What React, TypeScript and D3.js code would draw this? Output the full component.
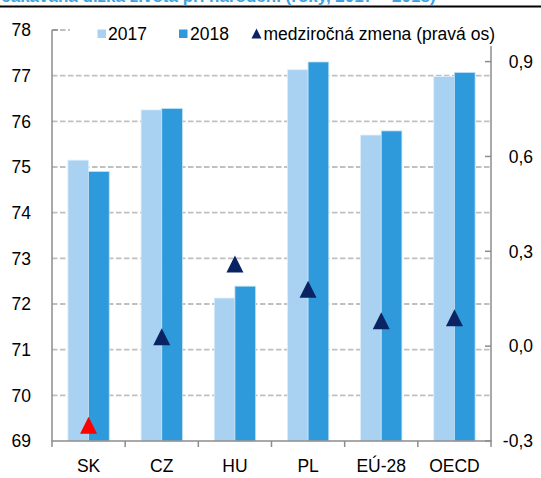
import React from "react";
import * as d3 from "d3";

const categories = ["SK", "CZ", "HU", "PL", "EÚ-28", "OECD"];
const values2017 = [75.15, 76.25, 72.13, 77.13, 75.7, 76.98];
const values2018 = [74.9, 76.28, 72.39, 77.3, 75.79, 77.07];
const yoyChange = [-0.25, 0.03, 0.26, 0.18, 0.08, 0.09];
const leftTicks = [69, 70, 71, 72, 73, 74, 75, 76, 77, 78];
const rightTicks = [-0.3, 0, 0.3, 0.6, 0.9];
const seriesNames = ["2017", "2018"];
const legendLabels = ["2017", "2018", "medziročná zmena (pravá os)"];

const W = 541;
const H = 478;
const FONT = "'Liberation Sans', Arial, sans-serif";
const C2017 = "#A9D1F1";
const C2018 = "#2E9ADC";
const NAVY = "#0A2463";
const GRID = "#C0C0C0";
const AXIS = "#8C8C8C";

export default function App() {
  const left = 52;
  const right = 491;
  const top = 30;
  const bottom = 441;

  const x0 = d3.scaleBand<string>().domain(categories).range([left, right]);
  const x1 = d3
    .scaleBand<string>()
    .domain(seriesNames)
    .range([0, x0.bandwidth()])
    .paddingInner(0)
    .paddingOuter(0.77);
  const yL = d3.scaleLinear().domain([69, 78]).range([bottom, top]);
  const yR = d3.scaleLinear().domain([-0.3, 1.0]).range([bottom, top]);
  const fmtR = (v: number) => d3.format(".1f")(v).replace(".", ",").replace("−", "-");

  const tri = (cx: number, cy: number, s: number) => {
    const p = d3.path();
    p.moveTo(cx, cy - s / 2);
    p.lineTo(cx + s / 2, cy + s / 2);
    p.lineTo(cx - s / 2, cy + s / 2);
    p.closePath();
    return p.toString();
  };

  return (
    <svg
      width={W}
      height={H}
      style={{ position: "absolute", left: 0, top: 0, background: "#fff" }}
      fontFamily={FONT}
    >
      <rect x={0} y={0} width={W} height={H} fill="#fff" />
      {/* title, mostly above the visible area as in the reference */}
      <text x={-12} y={1.5} fontSize={17} fontWeight="bold" fill="#3BA3E0">
        Očakávaná dĺžka života pri narodení (roky, 2017 – 2018)
      </text>
      <line x1={0} x2={W} y1={6.5} y2={6.5} stroke="#000" strokeWidth={2.2} />

      {/* gridlines */}
      {leftTicks.slice(1).map((t) => (
        <line
          key={"g" + t}
          x1={left}
          x2={right}
          y1={yL(t)}
          y2={yL(t)}
          stroke={GRID}
          strokeWidth={1.8}
          strokeDasharray="5.5 2.5"
        />
      ))}

      {/* bars */}
      {categories.map((c, i) => (
        <g key={c}>
          <rect
            x={(x0(c) as number) + (x1("2017") as number)}
            y={yL(values2017[i])}
            width={x1.bandwidth()}
            height={bottom - yL(values2017[i])}
            fill={C2017}
            stroke="#DDEEFA"
            strokeWidth={0.8}
          />
          <rect
            x={(x0(c) as number) + (x1("2018") as number)}
            y={yL(values2018[i])}
            width={x1.bandwidth()}
            height={bottom - yL(values2018[i])}
            fill={C2018}
            stroke="#BFE0F5"
            strokeWidth={0.8}
          />
        </g>
      ))}

      {/* triangles */}
      {categories.map((c, i) => (
        <path
          key={"t" + c}
          d={tri((x0(c) as number) + x0.bandwidth() / 2, yR(yoyChange[i]), 17)}
          fill={yoyChange[i] < 0 ? "#FF0000" : NAVY}
        />
      ))}

      {/* axes */}
      <line x1={left} x2={left} y1={top} y2={bottom} stroke={AXIS} strokeWidth={1.5} />
      <line x1={left} x2={left + 6} y1={top} y2={top} stroke={AXIS} strokeWidth={1.5} />
      <line x1={right} x2={right} y1={top} y2={bottom} stroke={AXIS} strokeWidth={1.5} />
      <line x1={left - 0.75} x2={right + 0.75} y1={bottom} y2={bottom} stroke={AXIS} strokeWidth={1.5} />
      {rightTicks.map((t) => (
        <line key={"rt" + t} x1={right - 6} x2={right} y1={yR(t)} y2={yR(t)} stroke={AXIS} strokeWidth={1.5} />
      ))}
      {categories.map((c) => (
        <line
          key={"bt" + c}
          x1={x0(c) as number}
          x2={x0(c) as number}
          y1={bottom}
          y2={bottom + 6}
          stroke={AXIS}
          strokeWidth={1.5}
        />
      ))}
      <line x1={right} x2={right} y1={bottom} y2={bottom + 6} stroke={AXIS} strokeWidth={1.5} />

      {/* tick labels */}
      {leftTicks.map((t) => (
        <text key={"lt" + t} x={31} y={yL(t)} dy="0.36em" textAnchor="end" fontSize={17.5} fill="#000">
          {t}
        </text>
      ))}
      {rightTicks.map((t) => (
        <text key={"rl" + t} x={533} y={yR(t)} dy="0.36em" textAnchor="end" fontSize={17.5} fill="#000">
          {fmtR(t)}
        </text>
      ))}
      {categories.map((c) => (
        <text
          key={"cl" + c}
          x={(x0(c) as number) + x0.bandwidth() / 2}
          y={466}
          dy="0.36em"
          textAnchor="middle"
          fontSize={17.5}
          fill="#000"
        >
          {c}
        </text>
      ))}

      {/* legend */}
      <rect x={70} y={18} width={428} height={28} fill="#fff" />
      <rect x={97.5} y={29.5} width={8.5} height={8.5} fill={C2017} />
      <text x={108} y={34} dy="0.36em" fontSize={17.5} fill="#000">
        {legendLabels[0]}
      </text>
      <rect x={179} y={29.5} width={8.5} height={8.5} fill={C2018} />
      <text x={190} y={34} dy="0.36em" fontSize={17.5} fill="#000">
        {legendLabels[1]}
      </text>
      <path d={tri(256.5, 33.5, 10)} fill={NAVY} />
      <text x={263.5} y={34} dy="0.36em" fontSize={17.5} fill="#000">
        {legendLabels[2]}
      </text>
    </svg>
  );
}
